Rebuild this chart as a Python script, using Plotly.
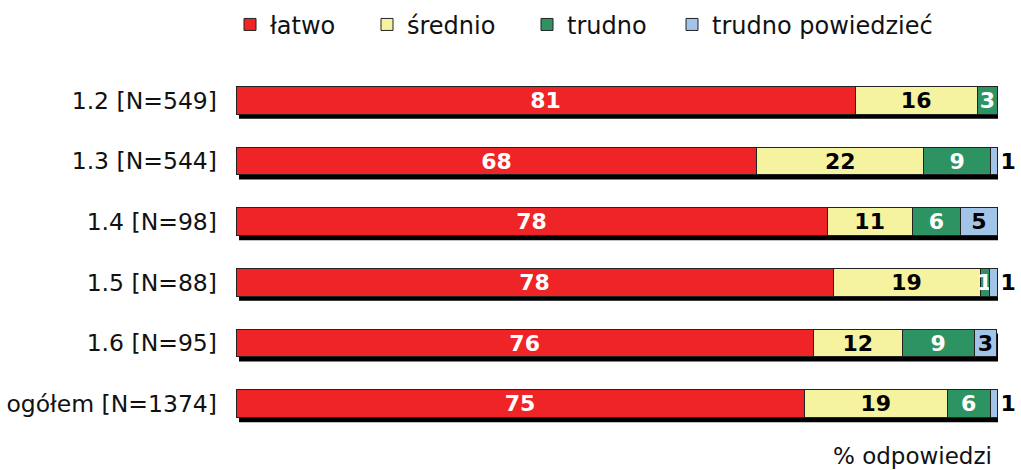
import plotly.graph_objects as go

categories = ["1.2 [N=549]", "1.3 [N=544]", "1.4 [N=98]", "1.5 [N=88]", "1.6 [N=95]", "ogółem [N=1374]"]
series_names = ["łatwo", "średnio", "trudno", "trudno powiedzieć"]
latwo = [81.3, 68.4, 77.6, 78.4, 75.8, 74.6]
srednio = [16.0, 21.9, 11.2, 19.3, 11.7, 18.8]
trudno = [2.7, 8.8, 6.3, 1.2, 9.4, 5.6]
trudno_pow = [0.0, 0.9, 4.9, 1.1, 3.0, 1.0]

colors = ["#EE2426", "#F5F2A0", "#2E9363", "#A2C4E8"]
text_colors = ["white", "black", "white", "black"]
series = [latwo, srednio, trudno, trudno_pow]
legend_ids = ["legend", "legend2", "legend3", "legend4"]
legend_x_px = [230, 367, 527, 672]

FONT = "DejaVu Sans"
W, H = 1021, 470
fig = go.Figure()

# shadows behind each stacked bar (computed from the data totals)
totals = [sum(v) for v in zip(*series)]
px_per_unit = 762 / 100.0
row_px = 60.8
dx = 3 / px_per_unit
dy = 4.5 / row_px
half = 14 / row_px
for i, tot in enumerate(totals):
    fig.add_shape(type="rect", xref="x", yref="y", layer="below",
                  x0=dx, x1=tot + dx, y0=i - half + dy, y1=i + half + dy,
                  fillcolor="black", line=dict(width=0))

for k, (name, vals) in enumerate(zip(series_names, series)):
    if k == 3:
        tpos = []
        for v in vals:
            if v <= 0:
                tpos.append("none")
            elif v < 2:
                tpos.append("outside")
            else:
                tpos.append("inside")
    else:
        tpos = ["inside"] * len(vals)
    fig.add_trace(go.Bar(
        y=categories, x=vals, name=name, orientation="h",
        legend=legend_ids[k],
        marker=dict(color=colors[k], line=dict(color="#222222", width=1)),
        texttemplate="%{x:.0f}", textposition=tpos, textangle=0,
        insidetextanchor="middle",
        insidetextfont=dict(family=FONT, size=22, color=text_colors[k], weight="bold"),
        outsidetextfont=dict(family=FONT, size=22, color="black", weight="bold"),
        cliponaxis=False, hoverinfo="skip",
    ))

legend_common = dict(orientation="h", xref="container", yref="container",
                     yanchor="top", xanchor="left",
                     font=dict(family=FONT, size=24, color="#111111"),
                     bgcolor="rgba(0,0,0,0)")
layout_legends = {}
for lid, xpx in zip(legend_ids, legend_x_px):
    layout_legends[lid] = dict(legend_common, x=xpx / W, y=0.995)

fig.update_layout(
    width=W, height=H,
    barmode="stack", bargap=0.54,
    plot_bgcolor="white", paper_bgcolor="white",
    margin=dict(l=236, r=23, t=70, b=36, autoexpand=False),
    font=dict(family=FONT, size=24, color="#111111"),
    uniformtext=dict(minsize=22, mode="show"),
    showlegend=True,
    xaxis=dict(range=[0, 100.05], visible=False, showgrid=False, zeroline=False),
    yaxis=dict(autorange="reversed", showgrid=False, zeroline=False, ticks="",
               ticklabelstandoff=18, tickfont=dict(family=FONT, size=23.5, color="#111111")),
    **layout_legends,
)
fig.add_annotation(text="% odpowiedzi", xref="paper", yref="paper", x=0.995, y=-0.02,
                   xanchor="right", yanchor="top", showarrow=False,
                   font=dict(family=FONT, size=23, color="#111111"))

fig.write_html("out.html", config={"displayModeBar": False},
               post_script="document.body.style.margin='0';")
